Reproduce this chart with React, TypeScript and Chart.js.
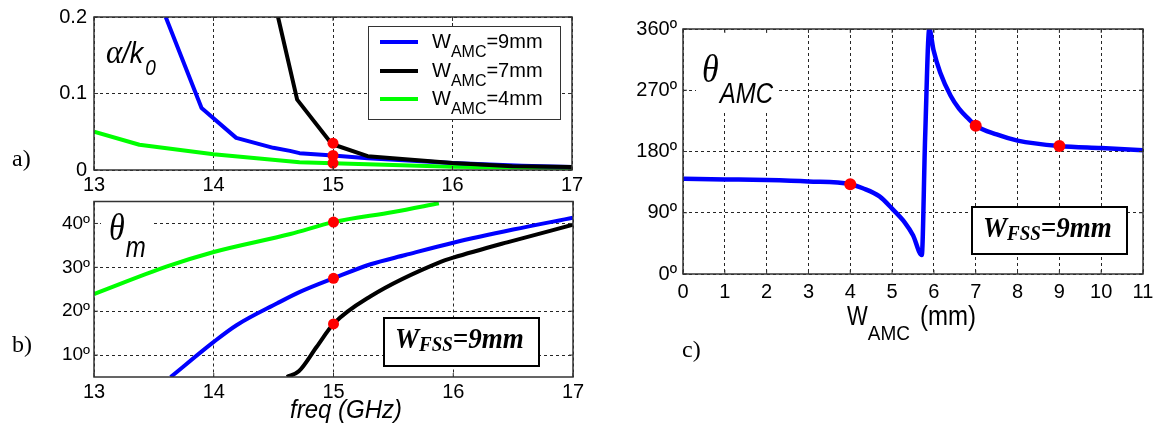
import { useEffect, useRef } from 'react';
import { Chart, registerables } from 'chart.js';
Chart.register(...registerables);

const SANS = '"Liberation Sans", Arial, sans-serif';
const SERIF = '"Liberation Serif", "Times New Roman", serif';

// ---------- Panel a: alpha/k0 vs freq ----------
const freqA9 = [13.6, 13.9, 14.19, 14.5, 14.64, 14.72, 15, 15.29, 16, 16.58, 17];
const alphaA9 = [0.2, 0.081, 0.042, 0.029, 0.025, 0.022, 0.019, 0.0155, 0.009, 0.0056, 0.004];
const freqA7 = [14.54, 14.7, 14.99, 15.29, 16, 16.5, 17];
const alphaA7 = [0.2, 0.092, 0.034, 0.018, 0.009, 0.005, 0.004];
const freqA4 = [13, 13.38, 14, 14.72, 15, 16, 17];
const alphaA4 = [0.05, 0.033, 0.0205, 0.01, 0.0088, 0.0044, 0.0026];
const markFreqA = [15, 15, 15];
const markAlphaA = [0.035, 0.019, 0.009];
const ticksAX = [13, 14, 15, 16, 17];
const ticksAY = [0, 0.1, 0.2];
const legendWidths = ['9mm', '7mm', '4mm'];
const legendColors = ['#0000ff', '#000000', '#00ff00'];

// ---------- Panel b: theta_m vs freq ----------
const freqB9 = [13.64, 14.0, 14.19, 14.53, 14.72, 15, 15.31, 15.6, 16, 16.5, 17];
const thetaB9 = [5, 13, 16.8, 21.8, 24.4, 27.5, 30.7, 32.8, 35.6, 38.6, 41.3];
const freqB7 = [14.61, 14.71, 14.86, 15, 15.31, 15.9, 16, 16.45, 17];
const thetaB7 = [5, 6.3, 11.9, 17.1, 23.4, 31.3, 32.2, 35.7, 39.7];
const freqB4 = [13, 13.61, 14, 14.64, 15, 15.5, 15.88];
const thetaB4 = [23.9, 30.2, 33.5, 37.6, 40.3, 42.6, 44.6];
const markFreqB = [15, 15, 15];
const markThetaB = [40.3, 27.5, 17.1];
const ticksBX = [13, 14, 15, 16, 17];
const ticksBY = [10, 20, 30, 40];

// ---------- Panel c: theta_AMC vs W_AMC ----------
const wAmc = [0, 1, 2, 3, 4, 4.3, 4.7, 5.0, 5.3, 5.5, 5.71, 5.79, 5.89, 5.99, 6.15, 6.4, 6.6, 6.83, 7, 7.5, 8, 9, 10, 11];
const thetaAmc = [140, 139, 138, 136, 132, 126, 114, 96, 76, 57, 28, 200, 360, 329, 296, 262, 243, 228, 218, 205, 196, 188, 185, 182];
const markW = [4, 7, 9];
const markThetaC = [132, 218, 188];
const ticksCX = [0, 1, 2, 3, 4, 5, 6, 7, 8, 9, 10, 11];
const ticksCY = [0, 90, 180, 270, 360];

const pts = (xs: number[], ys: number[]) => xs.map((x, i) => ({ x, y: ys[i] }));

function lineDs(xs: number[], ys: number[], color: string, width: number, smooth: boolean) {
  return {
    data: pts(xs, ys),
    borderColor: color,
    backgroundColor: color,
    borderWidth: width,
    pointRadius: 0,
    fill: false,
    tension: 0,
    cubicInterpolationMode: smooth ? 'monotone' : 'default',
    borderJoinStyle: 'round',
    borderCapStyle: 'butt',
    clip: 0,
  };
}
function markDs(xs: number[], ys: number[], r: number) {
  return {
    data: pts(xs, ys),
    showLine: false,
    pointRadius: r,
    pointHoverRadius: r,
    pointBackgroundColor: '#ff0000',
    pointBorderColor: '#ff0000',
    pointBorderWidth: 0,
    clip: false,
  };
}

function axis(min: number, max: number, ticks: number[], fmt: (v: number) => string, size: number, pad: number, fit: number, isX: boolean) {
  return {
    type: 'linear',
    min,
    max,
    afterBuildTicks: (s: any) => {
      s.ticks = ticks.map((v) => ({ value: v }));
    },
    afterFit: (s: any) => {
      if (isX) s.height = fit;
      else s.width = fit;
      s.paddingTop = 0;
      s.paddingBottom = 0;
      s.paddingLeft = 0;
      s.paddingRight = 0;
    },
    ticks: {
      font: { family: SANS, size },
      color: '#000',
      padding: pad,
      maxRotation: 0,
      minRotation: 0,
      autoSkip: false,
      callback: (v: any) => fmt(Number(v)),
    },
    grid: { color: 'rgba(0,0,0,0.85)', lineWidth: 1, drawTicks: false },
    border: { display: false, dash: [3, 3] },
  };
}

type Run = { t: string; f: string; dy?: number; dx?: number; sy?: number };
function runs(ctx: CanvasRenderingContext2D, x: number, y: number, parts: Run[]) {
  let cx = x;
  ctx.textAlign = 'left';
  ctx.textBaseline = 'alphabetic';
  for (const p of parts) {
    ctx.font = p.f;
    cx += p.dx || 0;
    ctx.save();
    ctx.translate(cx, y + (p.dy || 0));
    ctx.scale(1, p.sy || 1);
    ctx.fillText(p.t, 0, 0);
    ctx.restore();
    cx += ctx.measureText(p.t).width;
  }
}

function frame(chart: any, len: number) {
  const { ctx, chartArea: a, scales } = chart;
  ctx.save();
  ctx.setLineDash([]);
  ctx.strokeStyle = '#333';
  ctx.lineWidth = 1.5;
  ctx.strokeRect(a.left, a.top, a.right - a.left, a.bottom - a.top);
  ctx.lineWidth = 1;
  ctx.beginPath();
  for (const t of scales.x.ticks) {
    const px = scales.x.getPixelForValue(t.value);
    ctx.moveTo(px, a.bottom);
    ctx.lineTo(px, a.bottom - len);
    ctx.moveTo(px, a.top);
    ctx.lineTo(px, a.top + len);
  }
  for (const t of scales.y.ticks) {
    const py = scales.y.getPixelForValue(t.value);
    ctx.moveTo(a.left, py);
    ctx.lineTo(a.left + len, py);
    ctx.moveTo(a.right, py);
    ctx.lineTo(a.right - len, py);
  }
  ctx.stroke();
  ctx.restore();
}

function fssBox(ctx: CanvasRenderingContext2D, x: number, y: number, w: number, h: number) {
  ctx.save();
  ctx.fillStyle = '#fff';
  ctx.fillRect(x, y, w, h);
  ctx.strokeStyle = '#000';
  ctx.lineWidth = 2;
  ctx.strokeRect(x, y, w, h);
  ctx.fillStyle = '#000';
  runs(ctx, x + 11, y + 30, [
    { t: 'W', f: `italic bold 27px ${SERIF}`, sy: 1.12 },
    { t: 'FSS', f: `italic bold 19px ${SERIF}`, dy: 3, sy: 1.1 },
    { t: '=9mm', f: `italic bold 27px ${SERIF}`, sy: 1.12 },
  ]);
  ctx.restore();
}

function baseOptions(padTop: number, padRight: number, x: any, y: any) {
  return {
    responsive: false,
    maintainAspectRatio: false,
    animation: false,
    events: [],
    layout: { padding: { top: padTop, right: padRight, left: 0, bottom: 0 } },
    plugins: { legend: { display: false }, tooltip: { enabled: false } },
    scales: { x, y },
  };
}

function cfgA(): any {
  return {
    type: 'line',
    data: {
      datasets: [
        markDs(markFreqA, markAlphaA, 5.5),
        lineDs(freqA7, alphaA7, legendColors[1], 4, false),
        lineDs(freqA9, alphaA9, legendColors[0], 4, false),
        lineDs(freqA4, alphaA4, legendColors[2], 4, false),
      ],
    },
    options: baseOptions(
      17,
      18,
      axis(13, 17, ticksAX, (v) => String(v), 20, 3, 26, true),
      axis(0, 0.2, ticksAY, (v) => String(Math.round(v * 10) / 10), 20, 7, 94, false)
    ),
    plugins: [
      {
        id: 'panelA',
        afterDatasetsDraw(chart: any) {
          const ctx = chart.ctx as CanvasRenderingContext2D;
          frame(chart, 4);
          ctx.save();
          ctx.fillStyle = '#000';
          runs(ctx, 106, 63, [
            { t: 'α', f: `italic 31px ${SERIF}`, sy: 1.1 },
            { t: '/k', f: `italic 27px ${SANS}`, sy: 1.12 },
            { t: '0', f: `italic 19px ${SANS}`, dy: 12, dx: 2, sy: 1.12 },
          ]);
          // legend
          ctx.fillStyle = '#fff';
          ctx.fillRect(368, 26, 192, 93);
          ctx.strokeStyle = '#333';
          ctx.lineWidth = 1;
          ctx.strokeRect(368.5, 26.5, 192, 93);
          const rows = [48, 77, 105];
          legendWidths.forEach((w, i) => {
            ctx.strokeStyle = legendColors[i];
            ctx.lineWidth = 4;
            ctx.beginPath();
            ctx.moveTo(380, rows[i] - 6);
            ctx.lineTo(418, rows[i] - 6);
            ctx.stroke();
            ctx.fillStyle = '#000';
            runs(ctx, 432, rows[i], [
              { t: 'W', f: `20px ${SANS}` },
              { t: 'AMC', f: `16px ${SANS}`, dy: 9 },
              { t: '=' + w, f: `20px ${SANS}` },
            ]);
          });
          ctx.font = `24px ${SERIF}`;
          ctx.fillText('a)', 12, 166);
          ctx.restore();
        },
      },
    ],
  };
}

function cfgB(): any {
  return {
    type: 'line',
    data: {
      datasets: [
        markDs(markFreqB, markThetaB, 5.5),
        lineDs(freqB7, thetaB7, legendColors[1], 4, true),
        lineDs(freqB9, thetaB9, legendColors[0], 4, true),
        lineDs(freqB4, thetaB4, legendColors[2], 4, true),
      ],
    },
    options: baseOptions(
      4,
      17,
      axis(13, 17, ticksBX, (v) => String(v), 20, 3, 51, true),
      axis(5, 45, ticksBY, (v) => v + 'º', 19, 4, 94, false)
    ),
    plugins: [
      {
        id: 'panelB',
        beforeDatasetsDraw(chart: any) {
          const ctx = chart.ctx as CanvasRenderingContext2D;
          ctx.save();
          ctx.fillStyle = '#fff';
          ctx.fillRect(101, 9, 52, 57);
          ctx.fillStyle = '#000';
          runs(ctx, 109, 44, [
            { t: 'θ', f: `italic 32px ${SERIF}`, sy: 1.18 },
            { t: 'm', f: `italic 24px ${SANS}`, dy: 17, dx: 1, sy: 1.2 },
          ]);
          ctx.restore();
        },
        afterDatasetsDraw(chart: any) {
          const ctx = chart.ctx as CanvasRenderingContext2D;
          frame(chart, 4);
          ctx.save();
          fssBox(ctx, 384, 122, 155, 48);
          ctx.fillStyle = '#000';
          runs(ctx, 290, 222, [{ t: 'freq (GHz)', f: `italic 24px ${SANS}`, sy: 1.1 }]);
          ctx.font = `24px ${SERIF}`;
          ctx.fillText('b)', 12, 156);
          ctx.restore();
        },
      },
    ],
  };
}

function cfgC(): any {
  return {
    type: 'line',
    data: {
      datasets: [markDs(markW, markThetaC, 6), lineDs(wAmc, thetaAmc, '#0000ff', 4.5, true)],
    },
    options: baseOptions(
      29,
      13,
      axis(0, 11, ticksCX, (v) => String(v), 20, 6, 154, true),
      axis(0, 360, ticksCY, (v) => v + 'º', 20, 6, 83, false)
    ),
    plugins: [
      {
        id: 'panelC',
        beforeDatasetsDraw(chart: any) {
          const ctx = chart.ctx as CanvasRenderingContext2D;
          ctx.save();
          ctx.fillStyle = '#fff';
          ctx.fillRect(96, 34, 81, 76);
          ctx.fillStyle = '#000';
          runs(ctx, 102, 82, [
            { t: 'θ', f: `italic 34px ${SERIF}`, sy: 1.2 },
            { t: 'AMC', f: `italic 24px ${SANS}`, dy: 21, dx: 1, sy: 1.2 },
          ]);
          ctx.restore();
        },
        afterDatasetsDraw(chart: any) {
          const ctx = chart.ctx as CanvasRenderingContext2D;
          frame(chart, 4);
          ctx.save();
          fssBox(ctx, 372, 207, 155, 47);
          ctx.fillStyle = '#000';
          runs(ctx, 247, 325, [
            { t: 'W', f: `22px ${SANS}`, sy: 1.22 },
            { t: 'AMC', f: `19px ${SANS}`, dy: 15, sy: 1.1 },
            { t: '(mm)', f: `24px ${SANS}`, dx: 10, sy: 1.15 },
          ]);
          ctx.font = `24px ${SERIF}`;
          ctx.fillText('c)', 82, 357);
          ctx.restore();
        },
      },
    ],
  };
}

export default function App() {
  const refA = useRef<HTMLCanvasElement>(null);
  const refB = useRef<HTMLCanvasElement>(null);
  const refC = useRef<HTMLCanvasElement>(null);
  useEffect(() => {
    const charts = [
      new Chart(refA.current as HTMLCanvasElement, cfgA()),
      new Chart(refB.current as HTMLCanvasElement, cfgB()),
      new Chart(refC.current as HTMLCanvasElement, cfgC()),
    ];
    return () => charts.forEach((c) => c.destroy());
  }, []);
  const cv = (left: number, top: number, w: number, h: number): any => ({
    position: 'absolute',
    left,
    top,
    width: w,
    height: h,
  });
  return (
    <div style={{ position: 'fixed', left: 0, top: 0, width: 1156, height: 428, background: '#fff', overflow: 'hidden' }}>
      <canvas ref={refA} width={590} height={196} style={cv(0, 0, 590, 196)} />
      <canvas ref={refB} width={590} height={232} style={cv(0, 196, 590, 232)} />
      <canvas ref={refC} width={556} height={428} style={cv(600, 0, 556, 428)} />
    </div>
  );
}
